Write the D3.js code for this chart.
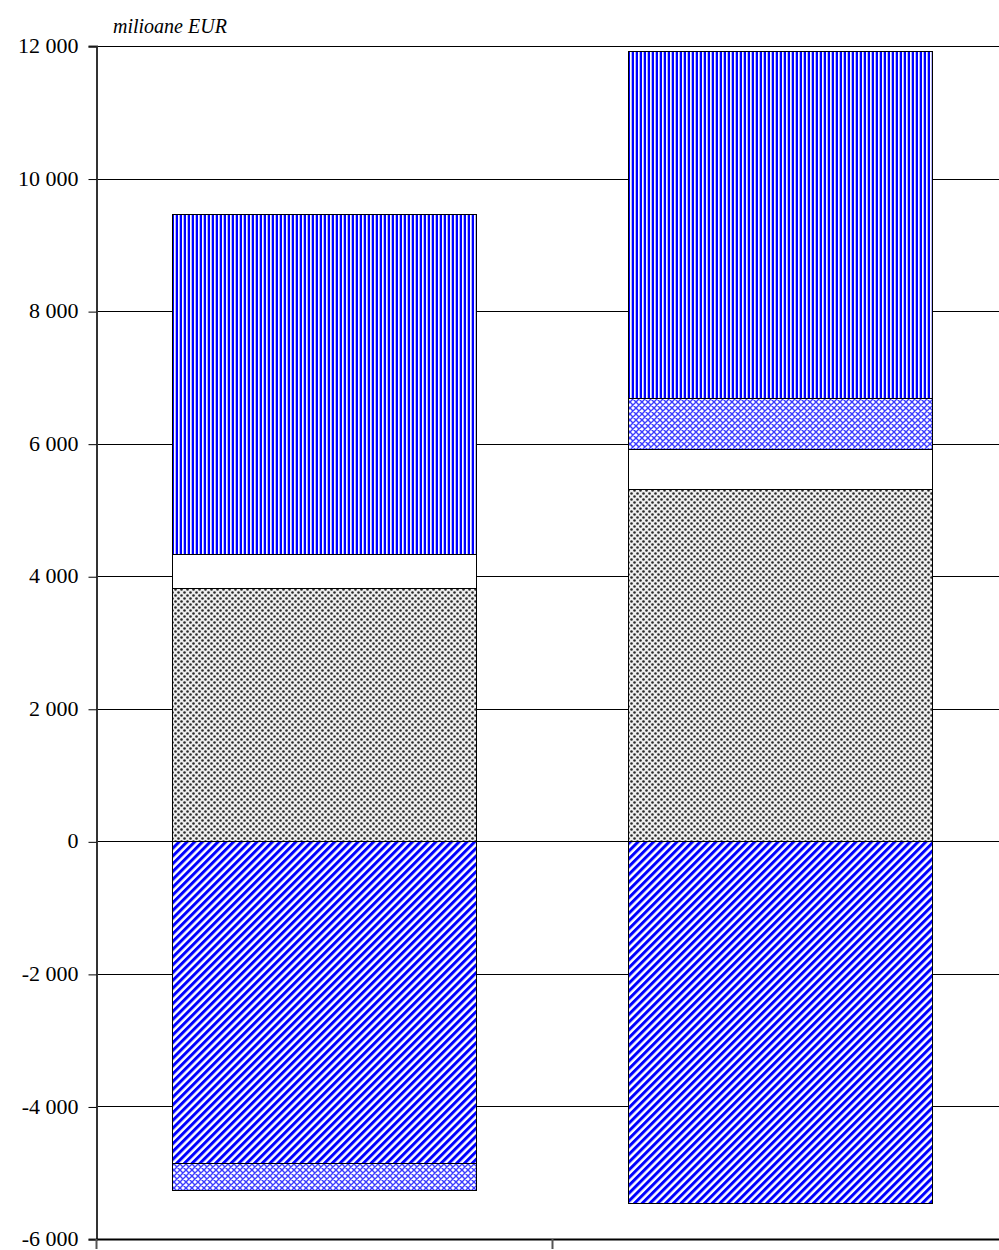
<!DOCTYPE html>
<html><head><meta charset="utf-8">
<script src="https://cdn.jsdelivr.net/npm/d3@7/dist/d3.min.js"></script>
<style>body{margin:0;background:#fff}svg{display:block}</style>
</head><body>
<script>
const categories = ["c1", "c2"];
const seriesKeys = ["E", "A", "B", "C", "D"];
const seriesA = [3820, 5320];   // gray dotted
const seriesB = [515, 594];     // white
const seriesC = [-410, 779];    // blue crosshatch
const seriesD = [5125, 5237];   // blue vertical stripes
const seriesE = [-4850, -5450]; // blue diagonal stripes
const yTicks = [-6000, -4000, -2000, 0, 2000, 4000, 6000, 8000, 10000, 12000];
const yLabels = ["-6 000", "-4 000", "-2 000", "0", "2 000", "4 000", "6 000", "8 000", "10 000", "12 000"];
const unitLabel = "milioane EUR";

const W = 999, H = 1250;
const FONT = "'Liberation Serif', 'Times New Roman', serif";
const svg = d3.select("body").append("svg").attr("width", W).attr("height", H);
const defs = svg.append("defs");

// patterns
const pV = defs.append("pattern").attr("id", "pV").attr("patternUnits", "userSpaceOnUse").attr("width", 4).attr("height", 4);
pV.append("rect").attr("width", 4).attr("height", 4).attr("fill", "#fff");
pV.append("rect").attr("width", 2).attr("height", 4).attr("fill", "#0000ff");
pV.append("rect").attr("x", 3).attr("width", 1).attr("height", 4).attr("fill", "#b4b4ff");

const pD = defs.append("pattern").attr("id", "pD").attr("patternUnits", "userSpaceOnUse").attr("width", 5.5).attr("height", 5.5).attr("patternTransform", "rotate(45)");
pD.append("rect").attr("width", 5.5).attr("height", 5.5).attr("fill", "#fff");
pD.append("rect").attr("width", 3).attr("height", 5.5).attr("fill", "#0000ff");

const pX = defs.append("pattern").attr("id", "pX").attr("patternUnits", "userSpaceOnUse").attr("width", 6).attr("height", 6);
pX.append("rect").attr("width", 6).attr("height", 6).attr("fill", "#fff");
pX.append("path").attr("d", "M0,0L6,6M6,0L0,6M-1,5L1,7M5,-1L7,1M-1,1L1,-1M5,7L7,5").attr("stroke", "#3c3cff").attr("stroke-width", 1.4);

const pG = defs.append("pattern").attr("id", "pG").attr("patternUnits", "userSpaceOnUse").attr("width", 6).attr("height", 6);
pG.append("rect").attr("width", 6).attr("height", 6).attr("fill", "#eeeeee");
pG.append("circle").attr("cx", 1.5).attr("cy", 1.5).attr("r", 1.3).attr("fill", "#2a2a2a");
pG.append("circle").attr("cx", 4.5).attr("cy", 4.5).attr("r", 1.3).attr("fill", "#2a2a2a");

const fills = { A: "url(#pG)", B: "#fff", C: "url(#pX)", D: "url(#pV)", E: "url(#pD)" };
const valuesByKey = { A: seriesA, B: seriesB, C: seriesC, D: seriesD, E: seriesE };

const plotLeft = 96, plotRight = 1008, plotTop = 46, plotBottom = 1239;
const x = d3.scaleBand().domain(categories).range([plotLeft, plotRight]).padding(0);
const y = d3.scaleLinear().domain([-6000, 12000]).range([plotBottom, plotTop]);

const table = categories.map((c, i) => {
  const o = { cat: c };
  seriesKeys.forEach(k => o[k] = valuesByKey[k][i]);
  return o;
});
const stacked = d3.stack().keys(seriesKeys).offset(d3.stackOffsetDiverging)(table);

// gridlines
svg.append("g").selectAll("line").data(yTicks.filter(t => t > -6000)).join("line")
  .attr("x1", plotLeft).attr("x2", W).attr("y1", d => Math.round(y(d)) + 0.5).attr("y2", d => Math.round(y(d)) + 0.5)
  .attr("stroke", "#000").attr("stroke-width", 1);

// bars
const barW = x.bandwidth() * 2 / 3;
stacked.forEach(s => {
  svg.append("g").selectAll("rect").data(s).join("rect")
    .attr("x", d => Math.round(x(d.data.cat) + (x.bandwidth() - barW) / 2) + 0.5)
    .attr("width", Math.round(barW))
    .attr("y", d => Math.round(y(Math.max(d[0], d[1]))) + 0.5)
    .attr("height", d => Math.round(y(Math.min(d[0], d[1]))) - Math.round(y(Math.max(d[0], d[1]))))
    .attr("fill", fills[s.key])
    .attr("stroke", "#000").attr("stroke-width", 1);
});

// y axis
const yAxis = d3.axisLeft(y).tickValues(yTicks).tickSize(8).tickFormat((d, i) => yLabels[i]);
const gy = svg.append("g").attr("transform", `translate(${plotLeft + 0.5},0)`).call(yAxis)
  .attr("font-family", null).attr("font-size", null);
gy.select(".domain").attr("stroke", "#333").attr("stroke-width", 2);
gy.selectAll(".tick line").attr("stroke", "#000").attr("transform", "translate(0,0.5)");
gy.selectAll(".tick text").attr("x", -18).attr("dy", "0.3em")
  .style("font-family", FONT).style("font-size", "22px").attr("fill", "#000");

// x axis (category separators)
const xBounds = [plotLeft, x("c2"), plotRight];
svg.append("line").attr("x1", plotLeft).attr("x2", W).attr("y1", plotBottom + 0.5).attr("y2", plotBottom + 0.5).attr("stroke", "#000").attr("stroke-width", 2);
svg.append("g").selectAll("line").data(xBounds).join("line")
  .attr("x1", d => d + 0.5).attr("x2", d => d + 0.5).attr("y1", plotBottom).attr("y2", plotBottom + 10)
  .attr("stroke", "#555").attr("stroke-width", 2);

svg.append("text").attr("x", 113).attr("y", 33)
  .style("font-family", FONT).style("font-size", "20px").style("font-style", "italic")
  .text(unitLabel);
</script>
</body></html>
